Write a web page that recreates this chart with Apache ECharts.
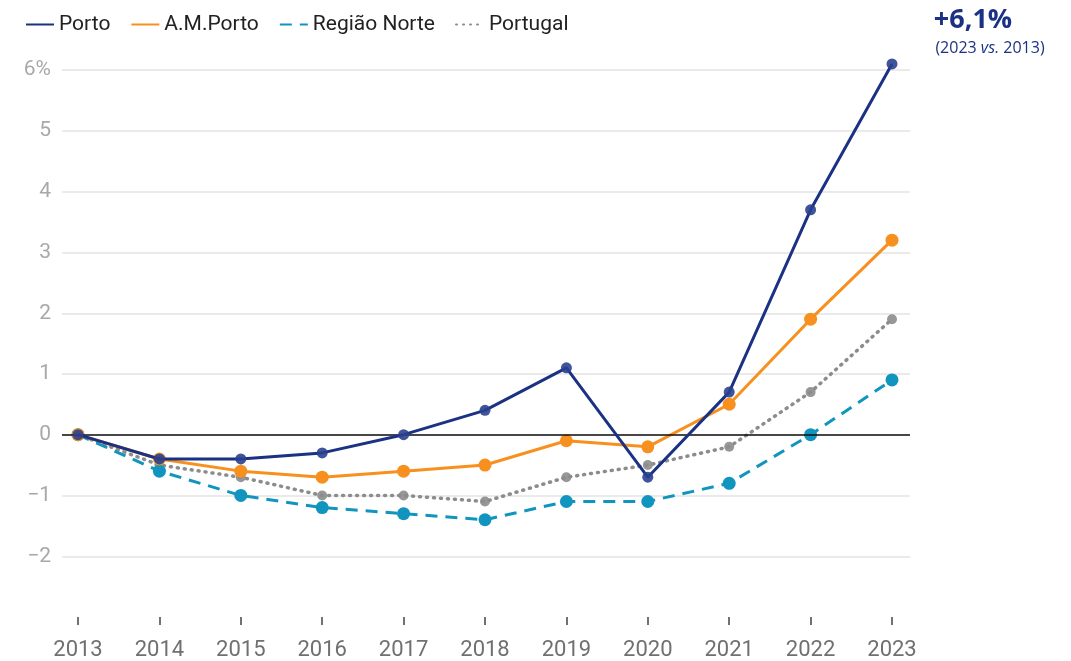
<!DOCTYPE html>
<html><head><meta charset="utf-8">
<script src="https://cdn.jsdelivr.net/npm/echarts@6/dist/echarts.min.js"></script>
<style>html,body{margin:0;padding:0;background:#fff}#c{width:1071px;height:661px}</style>
</head><body><div id="c"></div>
<script>
const years = ['2013','2014','2015','2016','2017','2018','2019','2020','2021','2022','2023'];
const porto    = [0, -0.4, -0.4, -0.3, 0, 0.4, 1.1, -0.7, 0.7, 3.7, 6.1];
const amPorto  = [0, -0.4, -0.6, -0.7, -0.6, -0.5, -0.1, -0.2, 0.5, 1.9, 3.2];
const norte    = [0, -0.6, -1.0, -1.2, -1.3, -1.4, -1.1, -1.1, -0.8, 0.0, 0.9];
const portugal = [0, -0.5, -0.7, -1.0, -1.0, -1.1, -0.7, -0.5, -0.2, 0.7, 1.9];
const seriesNames = ['Porto', 'A.M.Porto', 'Região Norte', 'Portugal'];
const headline = '+6,1%';
const subline = ['(2023 ', 'vs.', ' 2013)'];

const FONT = 'Roboto';
const chart = echarts.init(document.getElementById('c'));
const C = {porto:'#1b3183', am:'#f7901e', norte:'#1195bf', pt:'#8c8c8c'};
const yBase = {type:'value', min:-3, max:6, interval:1};
chart.setOption({
  animation:false,
  textStyle:{fontFamily:FONT},
  legend:{
    top:9, left:20, itemWidth:28, itemHeight:12, itemGap:20,
    textStyle:{fontFamily:FONT, fontSize:21, color:'#222'},
    itemStyle:{opacity:0},
    data:seriesNames.map(n=>({name:n}))
  },
  grid:[
    {left:62, right:161, top:70, bottom:43.5},
    {left:78, right:179, top:70, bottom:43.5}
  ],
  xAxis:[
    {gridIndex:0, type:'category', data:years, show:false},
    {gridIndex:1, type:'category', data:years, boundaryGap:false,
     axisLine:{show:false, onZero:false},
     axisTick:{show:true, length:8, lineStyle:{color:'#444', width:1.5}, alignWithLabel:true},
     axisLabel:{fontFamily:FONT, fontSize:22, color:'#707070', margin:22}}
  ],
  yAxis:[
    Object.assign({gridIndex:0,
      axisLine:{show:false}, axisTick:{show:false},
      splitLine:{show:true, showMinLine:false, lineStyle:{color:'#e3e3e3', width:1.5}},
      axisLabel:{fontFamily:FONT, fontSize:21, color:'#a8a8a8', margin:11, showMinLabel:false,
        formatter:v=> v===6 ? '6%' : (v<0 ? '\u2212'+Math.abs(v) : String(v))}}, yBase),
    Object.assign({gridIndex:1, show:false, splitLine:{show:false}}, yBase)
  ],
  series:[
    {type:'line', xAxisIndex:0, yAxisIndex:0, data:[], silent:true,
     markLine:{symbol:'none', silent:true, label:{show:false},
       lineStyle:{color:'#111', width:1.5, type:'solid'}, data:[{yAxis:0}]}},
    {name:seriesNames[3], type:'line', xAxisIndex:1, yAxisIndex:1, data:portugal, clip:false,
     symbol:'circle', symbolSize:10, z:2,
     lineStyle:{color:C.pt, width:3.5, type:[1,6], cap:'round'}, itemStyle:{color:C.pt, opacity:0.9}},
    {name:seriesNames[2], type:'line', xAxisIndex:1, yAxisIndex:1, data:norte, clip:false,
     symbol:'circle', symbolSize:13, z:3,
     lineStyle:{color:C.norte, width:3, type:[12,8]}, itemStyle:{color:C.norte}},
    {name:seriesNames[1], type:'line', xAxisIndex:1, yAxisIndex:1, data:amPorto, clip:false,
     symbol:'circle', symbolSize:13, z:4,
     lineStyle:{color:C.am, width:3}, itemStyle:{color:C.am}},
    {name:seriesNames[0], type:'line', xAxisIndex:1, yAxisIndex:1, data:porto, clip:false,
     symbol:'circle', symbolSize:11, z:5,
     lineStyle:{color:C.porto, width:3}, itemStyle:{color:'#2a418f', opacity:0.9}}
  ],
  graphic:[
    {type:'text', style:{text:headline, x:973, y:20, align:'center', verticalAlign:'middle',
      font:'bold 27px "Open Sans", sans-serif', fill:'#1b3183'}},
    {type:'text', style:{
      text:'{n|'+subline[0]+'}{i|'+subline[1]+'}{n|'+subline[2]+'}', x:990, y:48, align:'center', verticalAlign:'middle',
      rich:{n:{font:'16px "Open Sans", sans-serif', fill:'#1b3183'}, i:{font:'italic 16px "Open Sans", sans-serif', fill:'#1b3183'}}}}
  ]
});
</script></body></html>
